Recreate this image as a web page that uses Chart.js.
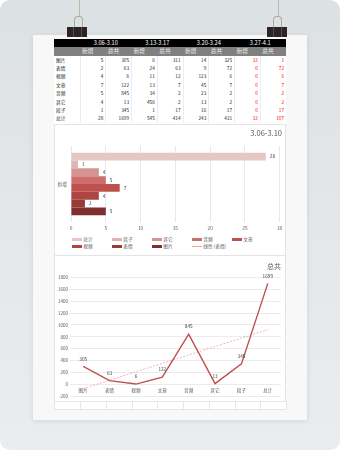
<!DOCTYPE html>
<html>
<head>
<meta charset="utf-8">
<script src="https://cdn.jsdelivr.net/npm/chart.js@4.4.1/dist/chart.umd.min.js"></script>
<style>
  html, body { margin: 0; padding: 0; width: 340px; height: 450px; background: #fff; overflow: hidden; }
  body { position: relative; font-family: "Noto Sans CJK SC", "Noto Sans", sans-serif; }
  #bg { position: absolute; left: 0; top: 0; width: 340px; height: 450px; border-radius: 10px;
        background: linear-gradient(180deg, #dce1e4 0%, #e5e8ea 55%, #eaedef 100%); }
  #paper { position: absolute; left: 33px; top: 35px; width: 274px; height: 385px; background: #f8f8f8;
           box-shadow: 0 1px 5px rgba(0,0,0,0.10); }
  #sheet { position: absolute; left: 54px; top: 39px; width: 232px; height: 370px; background: #fff; }
  .wire { position: absolute; top: 0; width: 1px; height: 17px; background: #b6baa9; }
  .loop { position: absolute; top: 16px; width: 7px; height: 12px; border: 1px solid #a8ac9b; border-bottom: none;
          border-radius: 4px 4px 0 0; }
  .clip { position: absolute; top: 27px; width: 20px; height: 10px; background: #2d2525; }
  .clip::after { content: ""; position: absolute; left: 6px; top: 0; width: 7px; height: 10px;
                 border-left: 1px solid #5a4d4d; border-right: 1px solid #5a4d4d; }
  table { position: absolute; left: 54px; border-collapse: collapse; table-layout: fixed; width: 232px; }
  td { padding: 0 2px; overflow: hidden; white-space: nowrap; }
  #tbl td { font-size: 4.7px; height: 8.4px; line-height: 8.4px; color: #222; text-align: right;
            border-left: 1px solid #e9ecf2; }
  #tbl td.lab { text-align: left; border-left: none; color: #222; }
  #tbl td.red { color: #ff0000; }
  #tbl tr.h1 td { background: #000; color: #fff; font-size: 5.7px; height: 8px; line-height: 8px; text-align: center; border: none; }
  #tbl tr.h2 td { background: #808080; color: #eee; font-size: 5.7px; height: 8.5px; line-height: 8.5px; text-align: left; border: none; padding-left: 2px; }
  #cells td { height: 7px; border: 1px solid #e3e6ee; }
  .box { position: absolute; left: 54px; width: 232px; box-sizing: border-box; border: 1px solid #e4e4e4; }
  canvas { position: absolute; left: 54px; }
  #legend { position: absolute; left: 0; top: 0; }
  .li { position: absolute; font-size: 4.7px; line-height: 6px; color: #595959; white-space: nowrap; }
  .li i { position: absolute; left: -11.5px; top: 1.6px; width: 10px; height: 3px; }
</style>
</head>
<body>
<div id="bg"></div>
<div class="wire" style="left:79px"></div>
<div class="loop" style="left:74px"></div>
<div class="wire" style="left:278px"></div>
<div class="loop" style="left:273px"></div>
<div id="paper"></div>
<div class="clip" style="left:67px"></div>
<div class="clip" style="left:267px"></div>
<div id="sheet"></div>
<table id="tbl" style="top:39px"></table>
<div class="box" style="top:124px;height:132px"></div>
<div class="box" style="top:255px;height:147px"></div>
<table id="cells" style="top:401px"></table>
<canvas id="barChart" width="232" height="111" style="top:125px"></canvas>
<div id="legend"></div>
<canvas id="lineChart" width="232" height="145" style="top:256px"></canvas>
<script>
const rowLabels = ['图片', '表情', '视频', '文章', '音频', '其它', '段子', '总计'];
const weekLabels = ['3.06-3.10', '3.13-3.17', '3.20-3.24', '3.27-4.1'];
const subLabels = ['新增', '总共'];
const new0306 = [5, 2, 4, 7, 5, 4, 1, 28];
const total0306 = [305, 63, 6, 122, 845, 13, 345, 1699];
const new0313 = [6, 24, 11, 13, 34, 456, 1, 545];
const total0313 = [311, 63, 12, 7, 2, 2, 17, 414];
const new0320 = [14, 9, 123, 45, 23, 13, 16, 243];
const total0320 = [325, 72, 6, 7, 2, 2, 17, 431];
const new0327 = [32, 0, 0, 0, 0, 0, 0, 32];
const total0327 = [1, 72, 6, 7, 2, 2, 17, 107];
const xTicks = [0, 5, 10, 15, 20, 25, 30];
const yTicks = [-200, 1800];
// trendline ends
const trendStart = -72;
const trendEnd = 921;

const barColors = ['#e7c6c6', '#e1b3b2', '#d79392', '#cd6e6c', '#c0504d', '#ad4542', '#983b38', '#7d2f2d'];
const columns = [new0306, total0306, new0313, total0313, new0320, total0320, new0327, total0327];
const colW = [26, 25.75, 25.75, 25.75, 25.75, 25.75, 25.75, 25.75, 25.75];
const fontFam = '"Noto Sans CJK SC", "Noto Sans", sans-serif';

// table
function colgroup() {
  return '<colgroup>' + colW.map(w => `<col style="width:${w}px">`).join('') + '</colgroup>';
}
let html = colgroup();
html += '<tr class="h1"><td></td>' + weekLabels.map(w => `<td colspan="2">${w}</td>`).join('') + '</tr>';
html += '<tr class="h2"><td></td>' + weekLabels.map(() => subLabels.map(s => `<td>${s}</td>`).join('')).join('') + '</tr>';
rowLabels.forEach((lab, r) => {
  html += `<tr><td class="lab">${lab}</td>`;
  columns.forEach((col, c) => {
    html += `<td class="${c >= 6 ? 'red' : ''}">${col[r]}</td>`;
  });
  html += '</tr>';
});
document.getElementById('tbl').innerHTML = html;
document.getElementById('cells').innerHTML = colgroup() + '<tr>' + colW.map(() => '<td></td>').join('') + '</tr>';

// value labels for bars / points
const valueLabels = {
  id: 'valueLabels',
  afterDatasetsDraw(chart, args, opts) {
    const ctx = chart.ctx;
    ctx.save();
    ctx.font = '4.7px ' + fontFam;
    ctx.fillStyle = '#404040';
    ctx.textBaseline = 'middle';
    chart.data.datasets.forEach((ds, i) => {
      if (ds.noLabels) return;
      const meta = chart.getDatasetMeta(i);
      meta.data.forEach((el, j) => {
        if (ds.data[j] == null) return;
        if (opts.horizontal) {
          ctx.textAlign = 'left';
          ctx.fillText(ds.data[j], el.x + 4, el.y);
        } else {
          ctx.textAlign = 'center';
          ctx.fillText(ds.data[j], el.x, el.y - 7.5);
        }
      });
    });
    ctx.restore();
  }
};

// bar chart: 新增 of 3.06-3.10, 总计 at the top
const barOrder = [7, 6, 5, 4, 3, 2, 1, 0];
const barSets = barOrder.map((r, k) => ({
  label: rowLabels[r],
  data: [new0306[r]],
  backgroundColor: barColors[k],
  borderWidth: 0
}));
barSets.push({
  type: 'line',
  label: '线性 (表情)',
  data: [],
  borderColor: '#e39a99',
  borderWidth: 0.8,
  borderDash: [2, 1],
  pointRadius: 0,
  noLabels: true
});

const barChart = new Chart(document.getElementById('barChart'), {
  type: 'bar',
  data: { labels: [subLabels[0]], datasets: barSets },
  options: {
    indexAxis: 'y',
    responsive: false,
    animation: false,
    layout: { padding: { left: 0, right: 4, top: 0, bottom: 0 } },
    datasets: { bar: { categoryPercentage: 0.825, barPercentage: 1 } },
    plugins: {
      legend: { display: false },
      tooltip: { enabled: false },
      title: {
        display: true, text: weekLabels[0], align: 'end', color: '#595959',
        font: { size: 7.5, family: fontFam, weight: 'normal' }, padding: { top: 3.5, bottom: 8.5 }
      },
      valueLabels: { horizontal: true }
    },
    scales: {
      x: {
        min: xTicks[0], max: xTicks[xTicks.length - 1],
        ticks: { stepSize: 5, color: '#595959', font: { size: 4.8, family: fontFam }, padding: 3.6 },
        grid: { color: '#e3e3e3', lineWidth: 0.8, drawTicks: false },
        border: { display: false },
        afterFit(s) { s.height = 14; }
      },
      y: {
        ticks: { color: '#595959', font: { size: 4.7, family: fontFam }, padding: 4 },
        grid: { display: false, drawTicks: false },
        border: { display: false },
        afterFit(s) { s.width = 17; }
      }
    }
  },
  plugins: [valueLabels]
});

// legend in columns, like the sheet
const legendBox = document.getElementById('legend');
Chart.defaults.plugins.legend.labels.generateLabels(barChart).forEach((item, i) => {
  const ds = barChart.data.datasets[item.datasetIndex];
  const col = i % 5, row = Math.floor(i / 5);
  const d = document.createElement('div');
  d.className = 'li';
  d.style.left = (83.2 + col * 40) + 'px';
  d.style.top = (236.3 + row * 7) + 'px';
  const mark = ds.type === 'line'
    ? `<i style="height:0;top:3px;border-top:1px dashed ${ds.borderColor}"></i>`
    : `<i style="background:${item.fillStyle}"></i>`;
  d.innerHTML = mark + item.text;
  legendBox.appendChild(d);
});

// line chart: 总共 of 3.06-3.10
const trendLine = rowLabels.map((_, i) => i === 0 ? trendStart : (i === rowLabels.length - 1 ? trendEnd : null));

new Chart(document.getElementById('lineChart'), {
  type: 'line',
  data: {
    labels: rowLabels,
    datasets: [
      { label: subLabels[1], data: total0306, borderColor: '#c0504d', borderWidth: 1.4, pointRadius: 0, tension: 0 },
      { label: '线性 (总共)', data: trendLine, borderColor: '#e8a3a1', borderWidth: 0.8, borderDash: [2, 1.5],
        pointRadius: 0, spanGaps: true, noLabels: true }
    ]
  },
  options: {
    responsive: false,
    animation: false,
    layout: { padding: { left: 0, right: 5, top: 0, bottom: 4 } },
    plugins: {
      legend: { display: false },
      tooltip: { enabled: false },
      title: {
        display: true, text: subLabels[1], align: 'end', color: '#595959',
        font: { size: 7, family: fontFam, weight: 'normal' }, padding: { top: 6, bottom: 7 }
      },
      valueLabels: { horizontal: false }
    },
    scales: {
      x: {
        position: { y: 0 },
        offset: true,
        ticks: { color: '#595959', font: { size: 4.6, family: fontFam }, padding: 3.5, maxRotation: 0, autoSkip: false },
        grid: { display: false, drawTicks: false },
        border: { display: false }
      },
      y: {
        min: yTicks[0], max: yTicks[1],
        ticks: { stepSize: 200, color: '#595959', font: { size: 4.5, family: fontFam }, padding: 2,
                 callback: v => String(v) },
        grid: { color: '#e6e6e6', lineWidth: 0.8, drawTicks: false },
        border: { display: false },
        afterFit(s) { s.width = 16; }
      }
    }
  },
  plugins: [valueLabels]
});
</script>
</body>
</html>
